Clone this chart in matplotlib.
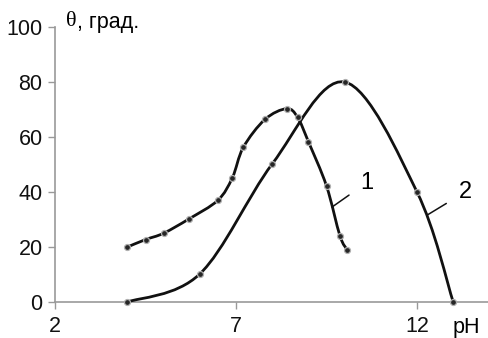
import numpy as np
import matplotlib.pyplot as plt
from matplotlib.path import Path
from matplotlib.patches import PathPatch

plt.rcParams['font.family'] = ['Liberation Sans', 'DejaVu Sans']

# curve 1
ph1 = [4.0, 4.5, 5.0, 5.7, 6.5, 6.9, 7.2, 7.8, 8.4, 8.7, 9.0, 9.5, 9.87, 10.07]
theta1 = [20, 22.7, 25, 30.2, 37, 45.2, 56.2, 66.4, 70.3, 67.2, 58.3, 42.2, 24.1, 19]
# curve 2
ph2 = [4, 6, 8, 10, 12, 13]
theta2 = [0, 10.2, 50.2, 80, 40, 0]

xticks = [2, 7, 12]
yticks = [0, 20, 40, 60, 80, 100]


# smooth line through the points (Excel-like Catmull-Rom bezier)
def smooth_path(x, y):
    p = np.column_stack([x, y])
    verts = [p[0]]
    codes = [Path.MOVETO]
    n = len(p)
    for i in range(n - 1):
        p0 = p[i - 1] if i > 0 else p[i]
        p3 = p[i + 2] if i + 2 < n else p[i + 1]
        c1 = p[i] + (p[i + 1] - p0) / 6
        c2 = p[i + 1] - (p3 - p[i]) / 6
        verts += [c1, c2, p[i + 1]]
        codes += [Path.CURVE4] * 3
    return Path(verts, codes)


fig = plt.figure(figsize=(4.88, 3.38), dpi=100)
ax = fig.add_axes([55 / 488, 36 / 338, 434.4 / 488, 275 / 338])

for xs, ys in [(ph1, theta1), (ph2, theta2)]:
    patch = PathPatch(smooth_path(xs, ys), facecolor='none', edgecolor='#111111',
                      lw=2.0, capstyle='round', clip_on=False, zorder=3)
    ax.add_patch(patch)
    ax.plot(xs, ys, 'o', ms=4.3, mfc='#262626', mec='#b0b0b0', mew=0.9,
            clip_on=False, zorder=4)

ax.set_xlim(2, 14)
ax.set_ylim(0, 100)
ax.set_xticks(xticks)
ax.set_yticks(yticks)
ax.tick_params(labelsize=15.5, color='#999999', length=5, width=1, pad=4,
               labelcolor='#111111')
ax.tick_params(axis='x', pad=5)
for s in ['top', 'right']:
    ax.spines[s].set_visible(False)
for s in ['left', 'bottom']:
    ax.spines[s].set_color('#999999')
    ax.spines[s].set_linewidth(1.2)

# curve labels with leaders
ax.annotate('1', xy=(9.65, 34.5), xytext=(10.6, 43.3), fontsize=17,
            ha='center', va='center',
            arrowprops=dict(arrowstyle='-', color='#111111', lw=1.1,
                            shrinkA=7, shrinkB=0))
ax.annotate('2', xy=(12.28, 31.6), xytext=(13.33, 40.0), fontsize=17,
            ha='center', va='center',
            arrowprops=dict(arrowstyle='-', color='#111111', lw=1.1,
                            shrinkA=8, shrinkB=0))

ax.text(2.3, 102, 'θ', fontsize=16, family='Liberation Serif',
        va='center', ha='left', clip_on=False)
ax.text(2.62, 101.5, ', град.', fontsize=15.5, va='center', ha='left',
        clip_on=False)
ax.text(13.35, -9.4, 'pH', fontsize=15.5, va='center', ha='center',
        clip_on=False)

fig.savefig('out.png', dpi=100)
